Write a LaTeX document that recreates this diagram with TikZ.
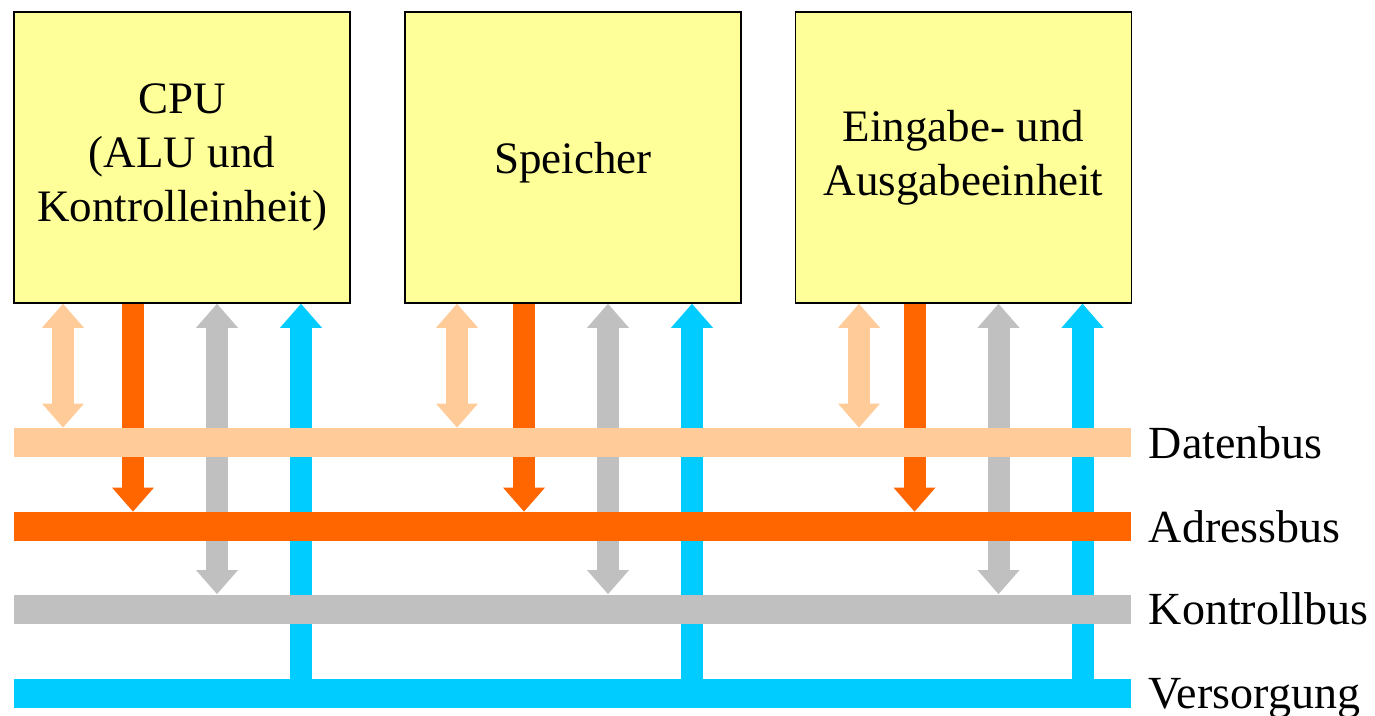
\documentclass[tikz,border=0pt]{standalone}
\usepackage{fontspec}
\setmainfont{Liberation Serif}
\usetikzlibrary{arrows.meta,positioning,backgrounds}

\definecolor{unitcol}{HTML}{FFFF99}
\definecolor{datcol}{HTML}{FFCC99}
\definecolor{adrcol}{HTML}{FF6600}
\definecolor{ctlcol}{HTML}{C0C0C0}
\definecolor{vcccol}{HTML}{00CCFF}

\tikzset{
  unit/.style={draw=black, line width=0.8pt, fill=unitcol, minimum width=168pt,
    minimum height=145.5pt, inner sep=0pt, align=center,
    font=\fontsize{22.5}{27}\selectfont,
    execute at begin node={\rule{0pt}{20.5pt}}},
  bus/.style={fill=#1, minimum width=558.5pt, minimum height=14.5pt, inner sep=0pt},
  buslabel/.style={inner sep=0pt, text depth=0pt, font=\fontsize{23}{27}\selectfont},
  wire/.style={draw=#1, line width=11pt},
  bushead/.tip={Triangle[width=21pt,length=12pt,line width=0pt]}
}

\begin{document}
\begin{tikzpicture}[x=0.5pt,y=-0.5pt]
    \useasboundingbox (0,0) rectangle (1375,716);

    % units
    \node[unit] (cpu) at (182,157.5) {CPU\\(ALU und\\Kontrolleinheit)};
    \node[unit] (mem) at (573,157.5) {Speicher};
    \node[unit] (io) at (963.5,157.5) {Eingabe- und\\Ausgabeeinheit};

    % buses
    \node[bus=datcol] (datbus) at (572.5,442.5) {};
    \node[bus=adrcol] (adrbus) at (572.5,526.5) {};
    \node[bus=ctlcol] (ctlbus) at (572.5,609) {};
    \node[bus=vcccol] (vccbus) at (572.5,693.5) {};
    \node[buslabel, right=8.5pt of datbus] (datlbl) {Datenbus};
    \node[buslabel, right=8.5pt of adrbus] (adrlbl) {Adressbus};
    \node[buslabel, right=8.5pt of ctlbus] (ctllbl) {Kontrollbus};
    \node[buslabel, right=8.5pt of vccbus] (vcclbl) {Versorgung};

    % connections, behind the buses
    \begin{scope}[on background layer]
    \foreach \u/\d in {cpu/-119, mem/-116, io/-104.5} {
        \coordinate (\u-dat) at ([xshift=\d*0.5pt]\u.south);
        \coordinate (\u-adr) at ([xshift=-24.5pt]\u.south);
        \coordinate (\u-ctl) at ([xshift=17.5pt]\u.south);
        \coordinate (\u-vcc) at ([xshift=59.5pt]\u.south);
        \draw[wire=datcol, bushead-bushead] (\u-dat) -- (\u-dat |- datbus.north);
        \draw[wire=adrcol, -bushead] (\u-adr) -- (\u-adr |- adrbus.north);
        \draw[wire=ctlcol, bushead-bushead] (\u-ctl) -- (\u-ctl |- ctlbus.north);
        \draw[wire=vcccol, -bushead] (\u-vcc |- vccbus.north) -- (\u-vcc);
    }
    \end{scope}
\end{tikzpicture}
\end{document}
